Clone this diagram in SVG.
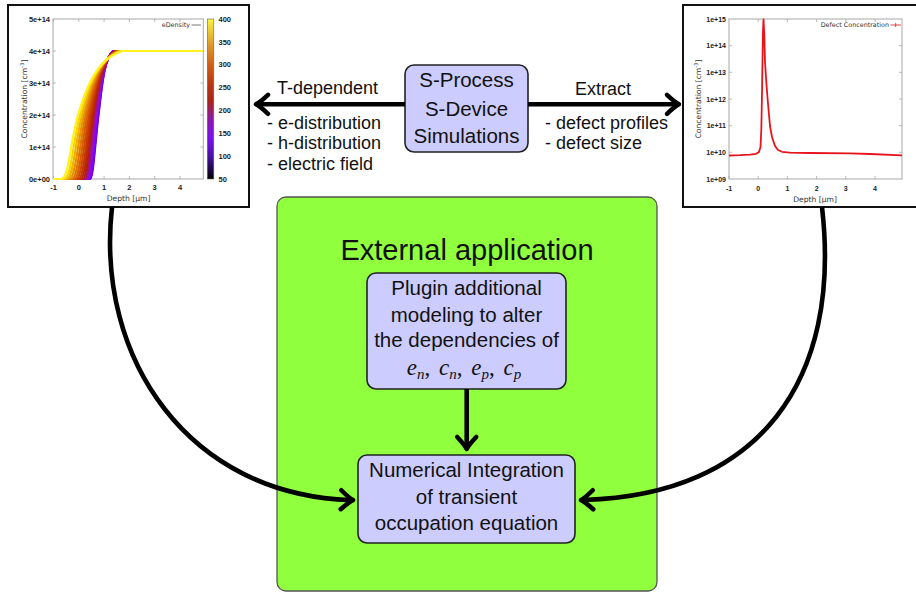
<svg xmlns="http://www.w3.org/2000/svg" width="916" height="594" viewBox="0 0 916 594">
<defs>
  <linearGradient id="cb" x1="0" y1="1" x2="0" y2="0">
    <stop offset="0" stop-color="#000000"/>
    <stop offset="0.143" stop-color="#4a10a8"/>
    <stop offset="0.257" stop-color="#7a10f0"/>
    <stop offset="0.371" stop-color="#8c1aa8"/>
    <stop offset="0.486" stop-color="#a82418"/>
    <stop offset="0.6" stop-color="#bb3a10"/>
    <stop offset="0.714" stop-color="#cf6018"/>
    <stop offset="0.829" stop-color="#dc9628"/>
    <stop offset="0.943" stop-color="#efd43a"/>
    <stop offset="1" stop-color="#fbf53c"/>
  </linearGradient>
  <marker id="ah" markerUnits="userSpaceOnUse" orient="auto" markerWidth="30" markerHeight="30" viewBox="-15 -15 30 30" refX="0" refY="0" overflow="visible">
    <path d="M-9,-9.5 Q-1,-2 3,0 Q-1,2 -9,9.5" fill="none" stroke="#000" stroke-width="4.5" stroke-linecap="round" stroke-linejoin="round"/>
  </marker>
</defs>
<style>
  .frame{fill:#fff;stroke:#111;stroke-width:2}
  .axes{fill:none;stroke:#a8a8a8;stroke-width:1}
  .tick{stroke:#a8a8a8;stroke-width:0.8}
  .tl{font-family:"Liberation Sans",Arial,sans-serif;font-weight:bold;font-size:7.5px;fill:#222}
  .tr{font-family:"Liberation Sans",Arial,sans-serif;font-weight:bold;font-size:7px;fill:#222}
  .al{font-family:"DejaVu Sans",sans-serif;font-size:7.6px;fill:#333}
  .lg{font-family:"DejaVu Sans",sans-serif;font-size:6.4px;fill:#333}
  .curve{fill:none;stroke-width:2.2}
  .box{fill:#ccccff;stroke:#222;stroke-width:1.6}
  .green{fill:#90ff3e;stroke:#555;stroke-width:1.3}
  .t{font-family:"Liberation Sans",Arial,sans-serif;fill:#111;font-size:20.5px;text-anchor:middle}
  .lab{font-family:"Liberation Sans",Arial,sans-serif;fill:#111;font-size:18px}
  .math{font-family:"Liberation Serif","Times New Roman",serif;font-style:italic;font-size:23px;fill:#111}
  .conn{fill:none;stroke:#000;stroke-width:4.6}
  .mid{text-anchor:middle}
  .end{text-anchor:end}
</style>

<g id="plot-edensity">
  <rect class="frame" x="8" y="5" width="241" height="202"/>
  <rect class="axes" x="53" y="19" width="150.3" height="160"/>
  <g class="tick">
    <path d="M53.5,179v-3M78.8,179v-3M104.1,179v-3M129.4,179v-3M154.7,179v-3M180,179v-3M53.5,19v3M78.8,19v3M104.1,19v3M129.4,19v3M154.7,19v3M180,19v3"/>
    <path d="M53,51h3M53,83h3M53,115h3M53,147h3M203.3,51h-3M203.3,83h-3M203.3,115h-3M203.3,147h-3"/>
  </g>
  <g class="tl end">
    <text x="50" y="21.7">5e+14</text>
    <text x="50" y="53.7">4e+14</text>
    <text x="50" y="85.7">3e+14</text>
    <text x="50" y="117.7">2e+14</text>
    <text x="50" y="149.7">1e+14</text>
    <text x="50" y="181.7">0e+00</text>
  </g>
  <g class="tl mid">
    <text x="53.5" y="189.5">-1</text>
    <text x="78.8" y="189.5">0</text>
    <text x="104.1" y="189.5">1</text>
    <text x="129.4" y="189.5">2</text>
    <text x="154.7" y="189.5">3</text>
    <text x="180" y="189.5">4</text>
  </g>
  <text class="al mid" x="128.5" y="201">Depth [µm]</text>
  <text class="al mid" transform="translate(27,99) rotate(-90)">Concentration [cm<tspan dy="-3" font-size="5.5">-3</tspan><tspan dy="3">]</tspan></text>
  <text class="lg end" x="190" y="27.3">eDensity</text>
  <path d="M191.5,25H201" stroke="#555" stroke-width="0.8"/>
  <g class="curve">
    <path stroke="#6001c7" d="M53,179L90,179C93,179 94.5,150 98.5,115C101.5,90 104,58 113,51L203,51"/>
    <path stroke="#7202f2" d="M53,179L89.5,179C92.6,179 94.1,149.8 98.1,115C101.2,90.1 103.8,58 113.2,51L203,51"/>
    <path stroke="#8104ff" d="M53,179L88.6,179C91.8,179 93.3,149.5 97.5,115C100.6,90.2 103.5,58.1 113.4,51L203,51"/>
    <path stroke="#8f08eb" d="M53,179L87.4,179C90.9,179 92.4,149.1 96.7,115C99.9,90.4 103.1,58.2 113.8,51L203,51"/>
    <path stroke="#9b0db8" d="M53,179L86,179C89.7,179 91.2,148.6 95.7,115C99.1,90.7 102.6,58.3 114.2,51L203,51"/>
    <path stroke="#a7146f" d="M53,179L84.4,179C88.4,179 89.9,148.1 94.6,115C98.1,91 102.1,58.4 114.7,51L203,51"/>
    <path stroke="#b21d16" d="M53,179L82.7,179C86.9,179 88.4,147.5 93.3,115C97.1,91.3 101.5,58.5 115.3,51L203,51"/>
    <path stroke="#bc2900" d="M53,179L80.7,179C85.3,179 86.8,146.8 92,115C95.9,91.6 100.8,58.6 115.9,51L203,51"/>
    <path stroke="#c53700" d="M53,179L78.7,179C83.7,179 85.2,146.1 90.5,115C94.7,91.9 100.1,58.8 116.5,51L203,51"/>
    <path stroke="#cf4800" d="M53,179L76.5,179C81.8,179 83.3,145.4 89,115C93.4,92.3 99.4,58.9 117.2,51L203,51"/>
    <path stroke="#d75d00" d="M53,179L74.2,179C79.9,179 81.4,144.6 87.3,115C92,92.7 98.6,59.1 117.9,51L203,51"/>
    <path stroke="#e07500" d="M53,179L71.8,179C77.9,179 79.4,143.7 85.6,115C90.5,93.1 97.7,59.3 118.7,51L203,51"/>
    <path stroke="#e89100" d="M53,179L69.2,179C75.8,179 77.3,142.8 83.8,115C89,93.6 96.8,59.4 119.4,51L203,51"/>
    <path stroke="#f0b100" d="M53,179L66.6,179C73.6,179 75.1,141.9 82,115C87.4,94 95.9,59.6 120.3,51L203,51"/>
    <path stroke="#f7d600" d="M53,179L63.9,179C71.4,179 72.9,141 80,115C85.7,94.5 95,59.8 121.1,51L203,51"/>
    <path stroke="#fff21e" d="M53,179L61,179C69,179 70.5,140 78,115C84,95 94,60 122,51L203,51"/>
  </g>
  <rect x="207.3" y="19" width="6.5" height="160" fill="url(#cb)" stroke="#666" stroke-width="0.6"/>
  <g class="tl">
    <text x="218.5" y="21.6">400</text>
    <text x="218.5" y="44.5">350</text>
    <text x="218.5" y="67.3">300</text>
    <text x="218.5" y="90.2">250</text>
    <text x="218.5" y="113">200</text>
    <text x="218.5" y="135.9">150</text>
    <text x="218.5" y="158.7">100</text>
    <text x="218.5" y="181.6">50</text>
  </g>
</g>

<g id="plot-defect">
  <rect class="frame" x="683" y="5" width="240" height="202"/>
  <rect class="axes" x="729" y="19" width="173" height="160"/>
  <g class="tick">
    <path d="M729,179v-3M758.2,179v-3M787.4,179v-3M816.6,179v-3M845.8,179v-3M875,179v-3M758.2,19v3M787.4,19v3M816.6,19v3M845.8,19v3M875,19v3"/>
    <path d="M729,45.7h3M729,72.3h3M729,99h3M729,125.7h3M729,152.3h3M902,45.7h-3M902,72.3h-3M902,99h-3M902,125.7h-3M902,152.3h-3"/>
  </g>
  <g class="tr end">
    <text x="726" y="21.5">1e+15</text>
    <text x="726" y="48.2">1e+14</text>
    <text x="726" y="74.8">1e+13</text>
    <text x="726" y="101.5">1e+12</text>
    <text x="726" y="128.2">1e+11</text>
    <text x="726" y="154.8">1e+10</text>
    <text x="726" y="181.5">1e+09</text>
  </g>
  <g class="tr mid">
    <text x="729" y="191">-1</text>
    <text x="758.2" y="191">0</text>
    <text x="787.4" y="191">1</text>
    <text x="816.6" y="191">2</text>
    <text x="845.8" y="191">3</text>
    <text x="875" y="191">4</text>
  </g>
  <text class="al mid" x="815" y="202">Depth [µm]</text>
  <text class="al mid" transform="translate(700.5,99) rotate(-90)" font-size="7.2">Concentration [cm<tspan dy="-3" font-size="5.3">-3</tspan><tspan dy="3">]</tspan></text>
  <text class="lg end" x="889" y="27.3">Defect Concentration</text>
  <path d="M890.5,25H901M895.7,23v4" stroke="#e8141c" stroke-width="0.8"/>
  <polyline fill="none" stroke="#e8141c" stroke-width="1.8" stroke-linejoin="round" points="729,155.5 740,155.2 750,154.6 756,153.8 759,152 760.5,147 761.3,130 761.9,100 762.5,60 763,30 763.5,19.5 764.3,35 765,62 766.3,82 767.7,100 769,115 770,126 772,137 775,146 778,150 782,151.8 790,152.6 810,153 850,153.3 870,154 902,155.3"/>
</g>

<g id="s-process">
  <rect class="box" x="405" y="65" width="123" height="87" rx="9"/>
  <text class="t" x="466.5" y="87">S-Process</text>
  <text class="t" x="466.5" y="116">S-Device</text>
  <text class="t" x="466.5" y="143">Simulations</text>
</g>

<g id="labels">
  <text class="lab" x="277" y="94">T-dependent</text>
  <text class="lab" x="267" y="129">- e-distribution</text>
  <text class="lab" x="267" y="149">- h-distribution</text>
  <text class="lab" x="267" y="170">- electric field</text>
  <text class="lab" x="575" y="95">Extract</text>
  <text class="lab" x="545" y="129">- defect profiles</text>
  <text class="lab" x="545" y="149">- defect size</text>
</g>

<g id="external-app">
  <rect class="green" x="277" y="197" width="380" height="394" rx="9"/>
  <text class="t" x="467" y="260" style="font-size:29px">External application</text>
</g>

<g id="plugin">
  <rect class="box" x="367" y="273" width="199" height="116" rx="9"/>
  <text class="t" x="466.5" y="295">Plugin additional</text>
  <text class="t" x="466.5" y="321.5">modeling to alter</text>
  <text class="t" x="466.5" y="347">the dependencies of</text>
  <text class="math mid" x="464" y="375">e<tspan dy="4" font-size="15">n</tspan><tspan dy="-4" font-style="normal">, </tspan><tspan dx="3">c</tspan><tspan dy="4" font-size="15">n</tspan><tspan dy="-4" font-style="normal">, </tspan><tspan dx="3">e</tspan><tspan dy="4" font-size="15">p</tspan><tspan dy="-4" font-style="normal">, </tspan><tspan dx="3">c</tspan><tspan dy="4" font-size="15">p</tspan></text>
</g>

<g id="numerical">
  <rect class="box" x="358" y="455" width="217" height="88" rx="9"/>
  <text class="t" x="466.5" y="477">Numerical Integration</text>
  <text class="t" x="466.5" y="504">of transient</text>
  <text class="t" x="466.5" y="530">occupation equation</text>
</g>

<g id="connectors">
  <path class="conn" marker-end="url(#ah)" d="M405,104.3H259"/>
  <path class="conn" marker-end="url(#ah)" d="M528,104.3H676"/>
  <path class="conn" marker-end="url(#ah)" d="M466.7,389V446"/>
  <path class="conn" marker-end="url(#ah)" d="M112,207C95,360 190,495 350,500"/>
  <path class="conn" marker-end="url(#ah)" d="M822,207C842,380 760,495 584,500"/>
</g>
</svg>
